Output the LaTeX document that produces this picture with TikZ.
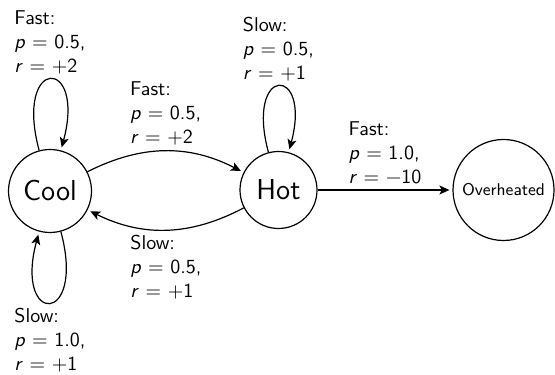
\documentclass[tikz,border=0pt]{standalone}
\usetikzlibrary{arrows.meta}

\newcommand{\pv}[1]{\textit{p} = #1}
\newcommand{\rv}[1]{\textit{r} = #1}

\begin{document}
\begin{tikzpicture}[x=0.5pt,y=0.5pt,font=\sffamily,
  state/.style={circle,draw,semithick,inner sep=1pt,font=\sffamily\Large},
  lbl/.style={align=left,font=\sffamily,inner sep=2.5pt},
  every edge/.style={draw,semithick,-{Stealth[length=5pt,width=4.5pt,inset=1.2pt]},shorten >=1.5pt},
  every loop/.style={looseness=11.5}]
  \useasboundingbox (0,0) rectangle (555,374);
  % states
  \node[state,minimum size=41.5pt] (cool) at (50,183) {Cool};
  \node[state,minimum size=38.5pt] (hot) at (278.5,184) {Hot};
  \node[state,minimum size=50.5pt,font=\sffamily\fontsize{8.5}{10}\selectfont] (over) at (503.5,184) {Overheated};
  % transitions
  \path (cool) edge[loop above] node[above,lbl] {Fast:\\\pv{0.5},\\\rv{+2}} (cool)
               edge[loop below] node[below,lbl] {Slow:\\\pv{1.0},\\\rv{+1}} (cool)
               edge[bend left=27] node[above,lbl] {Fast:\\\pv{0.5},\\\rv{+2}} (hot);
  \path (hot) edge[loop above] node[above,lbl] {Slow:\\\pv{0.5},\\\rv{+1}} (hot)
              edge[bend left=27] node[below,lbl] {Slow:\\\pv{0.5},\\\rv{+1}} (cool)
              edge node[above,lbl] {Fast:\\\pv{1.0},\\\rv{\textminus10}} (over);
\end{tikzpicture}
\end{document}
